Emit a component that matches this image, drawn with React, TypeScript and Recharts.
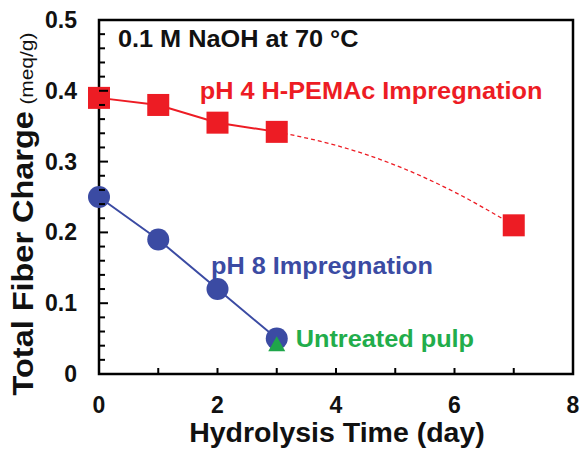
import React from "react";
import {
  ComposedChart,
  Line,
  Scatter,
  XAxis,
  YAxis,
  ReferenceArea,
  ReferenceDot,
} from "recharts";

// pH 4 H-PEMAc impregnation (meq/g)
const pemacPoints = [
  { x: 0, y: 0.39 },
  { x: 1, y: 0.38 },
  { x: 2, y: 0.355 },
  { x: 3, y: 0.342 },
  { x: 7, y: 0.21 },
];
const pemacTrend = [
  { x: 3, y: 0.342 },
  { x: 4, y: 0.323 },
  { x: 5, y: 0.295 },
  { x: 6, y: 0.257 },
  { x: 7, y: 0.21 },
];
// pH 8 impregnation
const ph8Points = [
  { x: 0, y: 0.25 },
  { x: 1, y: 0.19 },
  { x: 2, y: 0.12 },
  { x: 3, y: 0.05 },
];
const untreatedPoints = [{ x: 3, y: 0.042 }];

const xTicks = [0, 1, 2, 3, 4, 5, 6, 7, 8];
const xLabelTicks = [0, 2, 4, 6, 8];
const yTicks = Array.from({ length: 26 }, (_, i) => +(i * 0.02).toFixed(2));
const yLabelTicks = [0, 0.1, 0.2, 0.3, 0.4, 0.5];

const notes = [
  { x: 0.32, y: 0.462, text: "0.1 M NaOH at 70 °C", color: "#111111" },
  { x: 1.7, y: 0.388, text: "pH 4 H-PEMAc Impregnation", color: "#ed1c24" },
  { x: 1.89, y: 0.141, text: "pH 8 Impregnation", color: "#3b4ba3" },
  { x: 3.32, y: 0.038, text: "Untreated pulp", color: "#22ad4b" },
];

const RED = "#ed1c24";
const BLUE = "#3b4ba3";
const GREEN = "#1fa64a";
const FONT = "'Liberation Sans', Arial, sans-serif";

const isLabel = (v: number, list: number[]) =>
  list.some((t) => Math.abs(t - v) < 1e-6);

const YTick = (props: any) => {
  const { x, y, payload } = props;
  const v = payload.value;
  const major = isLabel(v, yLabelTicks);
  return (
    <g>
      <line x1={x} x2={x + (major ? 9 : 6)} y1={y} y2={y} stroke="#000" strokeWidth={2} />
      {major && (
        <text x={x - 22} y={y + 8} textAnchor="end" fontSize={23} fontWeight="bold" fontFamily={FONT} fill="#111">
          {v === 0 ? "0" : v.toFixed(1)}
        </text>
      )}
    </g>
  );
};

const XTick = (props: any) => {
  const { x, y, payload } = props;
  const v = payload.value;
  const major = isLabel(v, xLabelTicks);
  return (
    <g>
      <line x1={x} x2={x} y1={y} y2={y - 6} stroke="#000" strokeWidth={2} />
      {major && (
        <text x={x} y={y + 39} textAnchor="middle" fontSize={23} fontWeight="bold" fontFamily={FONT} fill="#111">
          {v}
        </text>
      )}
    </g>
  );
};

const Square = (p: any) => (
  <rect x={p.cx - 11} y={p.cy - 11} width={22} height={22} fill={RED} />
);
const Circle = (p: any) => <circle cx={p.cx} cy={p.cy} r={11} fill={BLUE} />;
const Triangle = (p: any) => (
  <polygon
    points={`${p.cx},${p.cy - 8} ${p.cx + 8.5},${p.cy + 7} ${p.cx - 8.5},${p.cy + 7}`}
    fill={GREEN}
  />
);

export default function App() {
  return (
    <div style={{ position: "absolute", left: 0, top: 0, background: "#fff" }}>
      <ComposedChart
        width={581}
        height={451}
        margin={{ top: 20, right: 8, left: 0, bottom: 0 }}
      >
        <XAxis
          type="number"
          dataKey="x"
          domain={[0, 8]}
          ticks={xTicks}
          interval={0}
          tickSize={0}
          tickMargin={0}
          axisLine={false}
          tickLine={false}
          tick={<XTick />}
          height={77}
          label={{
            content: ({ viewBox }: any) => (
              <text
                x={viewBox.x + viewBox.width / 2 + 1}
                y={viewBox.y + 68}
                textAnchor="middle"
                fontSize={28.5}
                fontWeight="bold"
                fontFamily={FONT}
                fill="#111"
              >
                Hydrolysis Time (day)
              </text>
            ),
          }}
        />
        <YAxis
          type="number"
          dataKey="y"
          domain={[0, 0.5]}
          ticks={yTicks}
          interval={0}
          tickSize={0}
          tickMargin={0}
          axisLine={false}
          tickLine={false}
          tick={<YTick />}
          width={99}
          label={{
            content: ({ viewBox }: any) => {
              const cx = 33;
              const cy = viewBox.y + 194;
              return (
                <text
                  x={0}
                  y={0}
                  transform={`translate(${cx}, ${cy}) rotate(-90) scale(1.1, 1)`}
                  textAnchor="middle"
                  fontFamily={FONT}
                  fill="#111"
                >
                  <tspan fontSize={29.5} fontWeight="bold">Total Fiber Charge</tspan>
                  <tspan fontSize={19} dx={6}>(meq/g)</tspan>
                </text>
              );
            },
          }}
        />
        <ReferenceArea
          x1={0}
          x2={8}
          y1={0}
          y2={0.5}
          fill="none"
          stroke="#000"
          strokeWidth={2.5}
          ifOverflow="visible"
        />
        <Line
          data={pemacTrend}
          dataKey="y"
          type="monotone"
          stroke={RED}
          strokeWidth={1.3}
          strokeDasharray="4 3"
          dot={false}
          isAnimationActive={false}
        />
        <Line
          data={pemacPoints.filter((d) => d.x <= 3)}
          dataKey="y"
          type="linear"
          stroke={RED}
          strokeWidth={2}
          dot={false}
          isAnimationActive={false}
        />
        <Line
          data={ph8Points}
          dataKey="y"
          type="linear"
          stroke={BLUE}
          strokeWidth={2}
          dot={false}
          isAnimationActive={false}
        />
        <Scatter data={pemacPoints} dataKey="y" shape={<Square />} isAnimationActive={false} />
        <Scatter data={ph8Points} dataKey="y" shape={<Circle />} isAnimationActive={false} />
        <Scatter data={untreatedPoints} dataKey="y" shape={<Triangle />} isAnimationActive={false} />
        {notes.map((n) => (
          <ReferenceDot
            key={n.text}
            x={n.x}
            y={n.y}
            r={0}
            stroke="none"
            ifOverflow="visible"
            label={{
              content: ({ viewBox }: any) => (
                <text
                  x={0}
                  y={0}
                  transform={`translate(${viewBox.x}, ${viewBox.y}) scale(1.1, 1)`}
                  fontSize={23}
                  fontWeight="bold"
                  fontFamily={FONT}
                  fill={n.color}
                >
                  {n.text}
                </text>
              ),
            }}
          />
        ))}
      </ComposedChart>
    </div>
  );
}
